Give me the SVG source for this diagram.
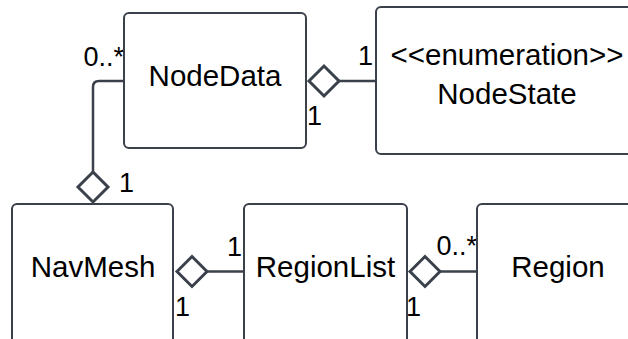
<svg xmlns="http://www.w3.org/2000/svg" width="628" height="339" viewBox="0 0 628 339">
<style>
.box{fill:#fff;stroke:#3a414a;stroke-width:2}
.lbl{font-family:"Liberation Sans",Arial,sans-serif;font-size:29.5px;fill:#000;text-anchor:middle}
.m{font-family:"Liberation Sans",Arial,sans-serif;font-size:27px;fill:#000}
.ln{fill:none;stroke:#3a414a;stroke-width:2.5}
.dm{fill:#fff;stroke:#3a414a;stroke-width:3;stroke-linejoin:miter}
</style>
<rect width="628" height="339" fill="#fff"/>
<g id="connectors">
<path class="ln" d="M124,81 H99 Q93,81 93,87 V172"/>
<polygon class="dm" points="93,172 108,187 93,202 78,187"/>
<path class="ln" d="M339,81 H376"/>
<polygon class="dm" points="309,81 324,66 339,81 324,96"/>
<path class="ln" d="M207,271.5 H244"/>
<polygon class="dm" points="177,271.5 192,256.5 207,271.5 192,286.5"/>
<path class="ln" d="M440,271.5 H477"/>
<polygon class="dm" points="410,271.5 425,256.5 440,271.5 425,286.5"/>
<text class="m" x="124" y="66" text-anchor="end">0..*</text>
<text class="m" x="119" y="192">1</text>
<text class="m" x="358" y="65">1</text>
<text class="m" x="307" y="125">1</text>
<text class="m" x="227" y="256">1</text>
<text class="m" x="175" y="316">1</text>
<text class="m" x="477" y="255" text-anchor="end">0..*</text>
<text class="m" x="406" y="316">1</text>
</g>
<g id="NodeData">
<rect class="box" x="124" y="13" width="182" height="135" rx="5"/>
<text class="lbl" x="215" y="86">NodeData</text>
</g>
<g id="NodeState">
<rect class="box" x="376" y="7" width="270" height="147" rx="5"/>
<text class="lbl" x="507" y="65">&lt;&lt;enumeration&gt;&gt;</text>
<text class="lbl" x="507" y="104">NodeState</text>
</g>
<g id="NavMesh">
<rect class="box" x="12" y="204" width="161" height="140" rx="5"/>
<text class="lbl" x="93" y="277">NavMesh</text>
</g>
<g id="RegionList">
<rect class="box" x="244" y="204" width="163" height="140" rx="5"/>
<text class="lbl" x="325.5" y="277">RegionList</text>
</g>
<g id="Region">
<rect class="box" x="477" y="204" width="170" height="140" rx="5"/>
<text class="lbl" x="558" y="277">Region</text>
</g>
</svg>
